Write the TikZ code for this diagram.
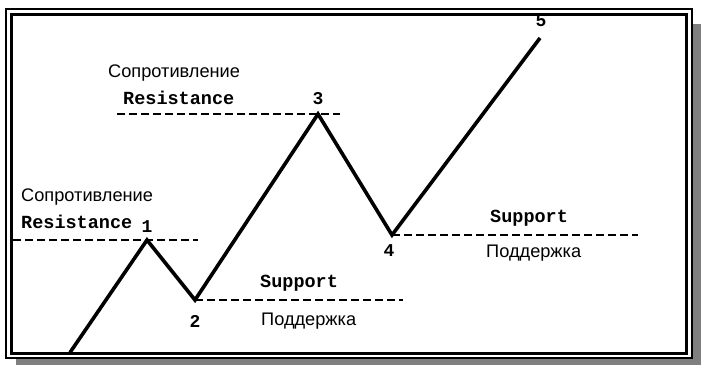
\documentclass[tikz,border=0pt]{standalone}
\usepackage{fontspec}
\setmainfont{Liberation Sans}
\newfontfamily\monofont{Liberation Mono}
\definecolor{shadowgray}{HTML}{7F7F7F}
\begin{document}
\begin{tikzpicture}[x=1pt,y=-1pt,
  chart/.style={line width=3.6pt,line join=miter,line cap=butt},
  level/.style={line width=1.9pt,dash pattern=on 8pt off 4pt},
  ru/.style={font=\fontsize{18.2}{20}\selectfont,inner sep=0pt},
  en/.style={font=\monofont\bfseries\fontsize{18.5}{20}\selectfont,inner sep=0pt},
  num/.style={font=\monofont\bfseries\fontsize{18}{20}\selectfont,inner sep=0pt}]
\useasboundingbox (0,0) rectangle (701,365);
% frame with shadow
\fill[shadowgray] (16,24) rectangle (701,365);
\draw[line width=2pt,fill=white] (6,9) rectangle (692,358);
\draw[line width=2.4pt] (11.5,14.5) rectangle (686.5,353.5);
% points
\coordinate (s) at (70,352.5);
\coordinate (p1) at (147,240);
\coordinate (p2) at (195,300);
\coordinate (p3) at (318,114);
\coordinate (p4) at (392,235);
\coordinate (p5) at (540,38);
\coordinate (r1a) at (13,240);
\coordinate (r1b) at (198,240);
\coordinate (r3a) at (117,114);
\coordinate (r3b) at (340,114);
\coordinate (s2b) at (403,300);
\coordinate (s4b) at (638,235);
% levels
\draw[level] (r1a) -- (r1b);
\draw[level] (r3a) -- (r3b);
\draw[level] (p2) -- (s2b);
\draw[level] (p4) -- (s4b);
% chart
\draw[chart] (s) -- (p1) -- (p2) -- (p3) -- (p4) -- (p5);
% labels
\node[ru,anchor=west] (ru3) at (108,73) {Сопротивление};
\node[en,anchor=west] (en3) at (123,98) {Resistance};
\node[ru,anchor=west] (ru1) at (21,197) {Сопротивление};
\node[en,anchor=west] (en1) at (21,222) {Resistance};
\node[en,anchor=west] (su2) at (260,283) {Support};
\node[ru,anchor=west] (po2) at (261,321) {Поддержка};
\node[en,anchor=west] (su4) at (490,218) {Support};
\node[ru,anchor=west] (po4) at (486,253) {Поддержка};
\node[num] (n1) at (147,227) {1};
\node[num] (n2) at (195,321) {2};
\node[num] (n3) at (318,99) {3};
\node[num] (n4) at (389,251) {4};
\node[num] (n5) at (541,21) {5};
\end{tikzpicture}
\end{document}
